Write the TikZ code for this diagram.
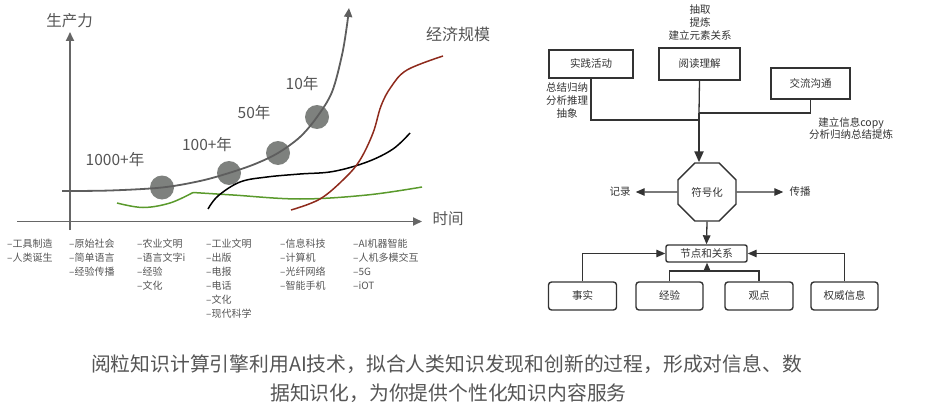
\documentclass[tikz,border=0pt]{standalone}
\usepackage{fontspec}
\setmainfont{Noto Sans CJK SC}
\usetikzlibrary{arrows.meta,shapes.geometric}
\definecolor{axisgray}{HTML}{666666}
\definecolor{curvegray}{HTML}{5E5E5E}
\definecolor{dotgray}{HTML}{7E817E}
\definecolor{txtgray}{HTML}{555555}
\definecolor{leafgreen}{HTML}{5A9A2C}
\definecolor{rust}{HTML}{8E2A1C}
\definecolor{linegray}{HTML}{333333}
\begin{document}
\begin{tikzpicture}[x=1pt,y=-1pt,
  lbl/.style={inner sep=0pt, text height=0.88em, text depth=0.12em},
  axis/.style={draw=axisgray, line width=1.8pt},
  axtip/.style={-{Triangle[length=9pt,width=8pt]}},
  chartlbl/.style={lbl, text=txtgray, font=\fontsize{15.5}{18}\selectfont},
  era/.style={lbl, anchor=west, text=txtgray, font=\fontsize{10}{12}\selectfont},
  milestone/.style={circle, fill=dotgray, minimum size=24pt, inner sep=0pt},
  box/.style={draw=linegray, line width=1.4pt, fill=white, inner sep=0pt,
    text=linegray, font=\fontsize{10.5}{12.5}\selectfont, text height=0.88em, text depth=0.12em},
  rbox/.style={box, rounded corners=3pt},
  note/.style={inner sep=0pt, text=linegray, font=\fontsize{10.5}{12.7}\selectfont, align=center},
  conn/.style={draw=linegray, line width=1.3pt},
  tip/.style={-{Triangle[length=9pt,width=7.5pt]}},
  caption/.style={lbl, text=txtgray, font=\fontsize{19.8}{24}\selectfont},
]
\useasboundingbox (0,0) rectangle (931,417);

% ---------------- productivity chart ----------------
\draw[axis, axtip] (70,230) -- (70,32);
\draw[axis, axtip] (17,221.5) -- (422,221.5);
\node[chartlbl] (ylab) at (69.5,23) {生产力};
\node[chartlbl] (xlab) at (448,221) {时间};
\node[chartlbl, font=\fontsize{16}{19}\selectfont] (scale) at (458,37) {经济规模};

% milestones on the growth curve
\node[milestone] (m1) at (162,187.5) {};
\node[milestone] (m2) at (229,173) {};
\node[milestone] (m3) at (278,153) {};
\node[milestone] (m4) at (317,117) {};
\node[chartlbl] (t1) at (115,162) {1000+年};
\node[chartlbl] (t2) at (207,147) {100+年};
\node[chartlbl] (t3) at (254,115) {50年};
\node[chartlbl] (t4) at (302,86) {10年};

% green curve
\draw[leafgreen, line width=1.5pt] plot[smooth, tension=0.6] coordinates
  {(117,203) (143,207.5) (170,203) (193,192.5)};
\draw[leafgreen, line width=1.5pt] plot[smooth, tension=0.6] coordinates
  {(193,192.5) (233,195) (300,199) (367,195) (422,187)};
% black curve
\draw[black, line width=1.5pt] plot[smooth, tension=0.6] coordinates
  {(208,209) (218,196) (240,182) (267,177) (300,174) (333,171.5) (367,162) (393,149) (410,133)};
% red curve
\draw[rust, line width=1.5pt] plot[smooth, tension=0.6] coordinates
  {(291,210) (320,199) (345,178) (360,160) (373,133) (381,106) (391,87) (407,70) (443,56)};
% grey growth curve
\draw[curvegray, line width=1.8pt, -{Triangle[length=9pt,width=8pt]}] plot[smooth, tension=0.55] coordinates
  {(62,191) (110,190.5) (162,187.5) (200,181) (229,173) (255,164) (278,153) (300,137) (317,117) (332,92) (342,55) (347,25) (349,8)};

% eras below the time axis
\foreach \t [count=\i] in {–工具制造,–人类诞生}
  \node[era] (ea\i) at (7,{244+14*(\i-1)}) {\t};
\foreach \t [count=\i] in {–原始社会,–简单语言,–经验传播}
  \node[era] (eb\i) at (69,{244+14*(\i-1)}) {\t};
\foreach \t [count=\i] in {–农业文明,–语言文字i,–经验,–文化}
  \node[era] (ec\i) at (137,{244+14*(\i-1)}) {\t};
\foreach \t [count=\i] in {–工业文明,–出版,–电报,–电话,–文化,–现代科学}
  \node[era] (ed\i) at (206,{244+14*(\i-1)}) {\t};
\foreach \t [count=\i] in {–信息科技,–计算机,–光纤网络,–智能手机}
  \node[era] (ee\i) at (280,{244+14*(\i-1)}) {\t};
\foreach \t [count=\i] in {–AI机器智能,–人机多模交互,–5G,–iOT}
  \node[era] (ef\i) at (353,{244+14*(\i-1)}) {\t};

% ---------------- knowledge flow diagram ----------------
\node[box, minimum width=84pt, minimum height=28pt] (prac) at (591,64) {实践活动};
\node[box, minimum width=81pt, minimum height=32pt] (read) at (699.5,64) {阅读理解};
\node[box, minimum width=79pt, minimum height=31pt] (talk) at (810.5,83.5) {交流沟通};

\node[note] (readnote) at (700,22.5) {抽取\\提炼\\建立元素关系};
\node[note] (pracnote) at (567,100.5) {总结归纳\\分析推理\\抽象};
\node[note] (talknote) at (851,128.5) {建立信息copy\\分析归纳总结提炼};

\node[draw=linegray, line width=1.4pt, regular polygon, regular polygon sides=8,
  minimum size=62.8pt, inner sep=0pt, text=linegray,
  font=\fontsize{10.5}{12.5}\selectfont] (sym) at (707,192) {符号化};

\coordinate (jp) at (699,120);
\coordinate (jt) at (699,113);
\draw[conn] (prac.south) |- (jp);
\draw[conn] (talk.south) |- (jt);
\draw[conn] (read.south) -- (jt);
\draw[conn, line width=2.2pt, -{Triangle[length=11pt,width=9pt]}] (jt) -- (jt |- sym.north);

\node[note] (rec) at (620,192) {记录};
\node[note] (spread) at (800,192) {传播};
\draw[conn, tip] (sym.west) -- ([xshift=5pt]rec.east);
\draw[conn, tip] (sym.east) -- ([xshift=-6pt]spread.west);

\node[box, rounded corners=2pt, minimum width=81pt, minimum height=17pt] (graph) at (706.5,253.5) {节点和关系};
\draw[conn, tip] (sym.south) -- (graph.north);

\node[rbox, minimum width=68pt, minimum height=28pt] (fact) at (582.5,296) {事实};
\node[rbox, minimum width=67pt, minimum height=28pt] (exp) at (669.5,296) {经验};
\node[rbox, minimum width=68pt, minimum height=28pt] (view) at (759,296) {观点};
\node[rbox, minimum width=67pt, minimum height=28pt] (auth) at (844.5,296) {权威信息};

\coordinate (jm) at (707,271);
\draw[conn, tip] (fact.north) |- (graph.west);
\draw[conn, tip] (auth.north) |- (graph.east);
\draw[conn] (exp.north) |- (jm) -| (view.north);
\draw[conn, tip] (jm) -- (jm |- graph.south);

% ---------------- caption ----------------
\node[caption] (cap1) at (446.5,368) {阅粒知识计算引擎利用AI技术，拟合人类知识发现和创新的过程，形成对信息、数};
\node[caption] (cap2) at (448.5,397) {据知识化，为你提供个性化知识内容服务};
\end{tikzpicture}
\end{document}
